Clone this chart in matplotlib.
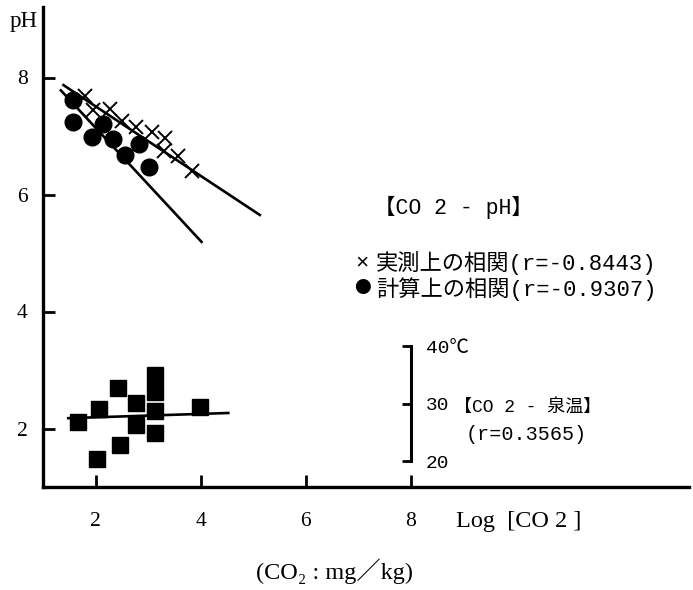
import matplotlib
matplotlib.use("Agg")
import matplotlib.pyplot as plt

# --- data -----------------------------------------------------------------
# measured pH against Log[CO2]  (x marks)
meas_x = [1.80, 1.95, 2.28, 2.50, 2.77, 3.08, 3.32, 3.30, 3.57, 3.84]
meas_ph = [7.68, 7.45, 7.47, 7.25, 7.15, 7.06, 6.97, 6.75, 6.65, 6.41]
# calculated pH against Log[CO2]  (filled circles)
calc_x = [1.58, 1.58, 1.93, 2.15, 2.34, 2.56, 2.82, 3.01]
calc_ph = [7.61, 7.24, 6.99, 7.21, 6.95, 6.67, 6.87, 6.47]
# spring temperature (deg C) against Log[CO2]  (filled squares)
temp_x = [1.66, 2.07, 2.42, 2.77, 2.77, 2.47, 2.03, 3.13, 3.13, 3.13, 3.13, 3.99]
temp_c = [26.8, 29.1, 32.8, 30.2, 26.3, 22.9, 20.5, 35.0, 32.0, 28.8, 25.0, 29.5]

# regression lines (end points)
fit_meas_x, fit_meas_ph = [1.39, 5.13], [7.87, 5.65]
fit_calc_x, fit_calc_ph = [1.34, 4.02], [7.78, 5.19]
fit_temp_x, fit_temp_c = [1.48, 4.53], [27.5, 28.4]

r_meas, r_calc, r_temp = "-0.8443", "-0.9307", "0.3565"

x_ticks = [2, 4, 6, 8]
y_ticks = [2, 4, 6, 8]
t_ticks = [20, 30, 40]
t_tick_labels = ["20", "30", "40℃"]

# temperature scale placed on the pH axis: where 20 and 40 deg C sit
t20_ph, t40_ph = 1.436, 3.410

# --- layout ---------------------------------------------------------------
W, H = 693, 590
SERIF = ["Liberation Serif", "DejaVu Serif", "Noto Sans CJK JP"]
MONO = ["Liberation Mono", "Noto Sans CJK JP"]
plt.rcParams["font.family"] = SERIF

fig = plt.figure(figsize=(W / 100, H / 100), dpi=100)


def fx(px):
    return px / W


def fy(py):
    return 1 - py / H


xlim = (1.0, 13.3)
ylim = (1.0, 9.2)
ax = fig.add_axes([fx(43), fy(487), (xlim[1] - xlim[0]) * 52.5 / W,
                   (ylim[1] - ylim[0]) * 58.5 / H])
ax.set_xlim(*xlim)
ax.set_ylim(*ylim)
for s in ("top", "right"):
    ax.spines[s].set_visible(False)
for s in ("left", "bottom"):
    ax.spines[s].set_linewidth(2.4)
ax.set_xticks(x_ticks)
ax.set_yticks(y_ticks)
ax.set_xticklabels([str(v) for v in x_ticks])
ax.set_yticklabels([str(v) for v in y_ticks])
ax.tick_params(direction="in", length=8.5, width=2.0, labelsize=15.5)
ax.tick_params(axis="x", pad=18)
ax.tick_params(axis="y", pad=11)

# regression lines and points for pH
ax.plot(fit_meas_x, fit_meas_ph, color="black", lw=1.9, zorder=2)
ax.plot(fit_calc_x, fit_calc_ph, color="black", lw=1.9, zorder=2)
ax.plot(meas_x, meas_ph, ls="none", marker="x", ms=10, mew=1.4,
        color="black", zorder=3)
ax.plot(calc_x, calc_ph, ls="none", marker="o", ms=12, color="black",
        zorder=4)

# temperature axis shown as a short bracket at Log[CO2] = 8
ax2 = ax.twinx()
k = 20 / (t40_ph - t20_ph)
ax2.set_ylim(20 + (ylim[0] - t20_ph) * k, 20 + (ylim[1] - t20_ph) * k)
for s in ("top", "left", "bottom"):
    ax2.spines[s].set_visible(False)
ax2.spines["right"].set_position(("data", 8.0))
ax2.spines["right"].set_bounds(t_ticks[0], t_ticks[-1])
ax2.spines["right"].set_linewidth(2.2)
ax2.set_yticks(t_ticks)
ax2.set_yticklabels(t_tick_labels)
ax2.tick_params(axis="y", direction="in", length=6.5, width=2.0,
                labelsize=14, pad=11)
for lab in ax2.get_yticklabels():
    lab.set_fontfamily(MONO)

ax2.plot(fit_temp_x, fit_temp_c, color="black", lw=1.9, zorder=2)
ax2.plot(temp_x, temp_c, ls="none", marker="s", ms=12, color="black",
         zorder=3)

# --- text -------------------------------------------------------------------
fig.text(fx(24), fy(22), "pH", fontsize=16.5, ha="center", va="center")
fig.text(fx(519), fy(521), "Log  [CO 2 ]", fontsize=17.5, ha="center",
         va="center")
fig.text(fx(334), fy(571), "(CO₂ : mg／kg)", fontsize=17.5, ha="center",
         va="center", family=SERIF)

fig.text(fx(453), fy(207), "【CO 2 - pH】", fontsize=15.5, ha="center",
         va="center", family=MONO)
fig.text(fx(362), fy(263), "×", fontsize=16, ha="center", va="center",
         family=MONO)
fig.text(fx(376), fy(263), "実測上の相関" + f"(r={r_meas})", fontsize=16,
         ha="left", va="center", family=MONO)
fig.text(fx(362), fy(289), "●", fontsize=12, ha="center", va="center",
         family=["Noto Sans CJK JP"])
fig.text(fx(376), fy(289), "計算上の相関" + f"(r={r_calc})", fontsize=16,
         ha="left", va="center", family=MONO)

fig.text(fx(454), fy(407), "【CO 2 - 泉温】", fontsize=13, ha="left",
         va="center", family=MONO)
fig.text(fx(466), fy(434), f"(r={r_temp})", fontsize=14.5, ha="left",
         va="center", family=MONO)

fig.savefig("out.png", dpi=100)
